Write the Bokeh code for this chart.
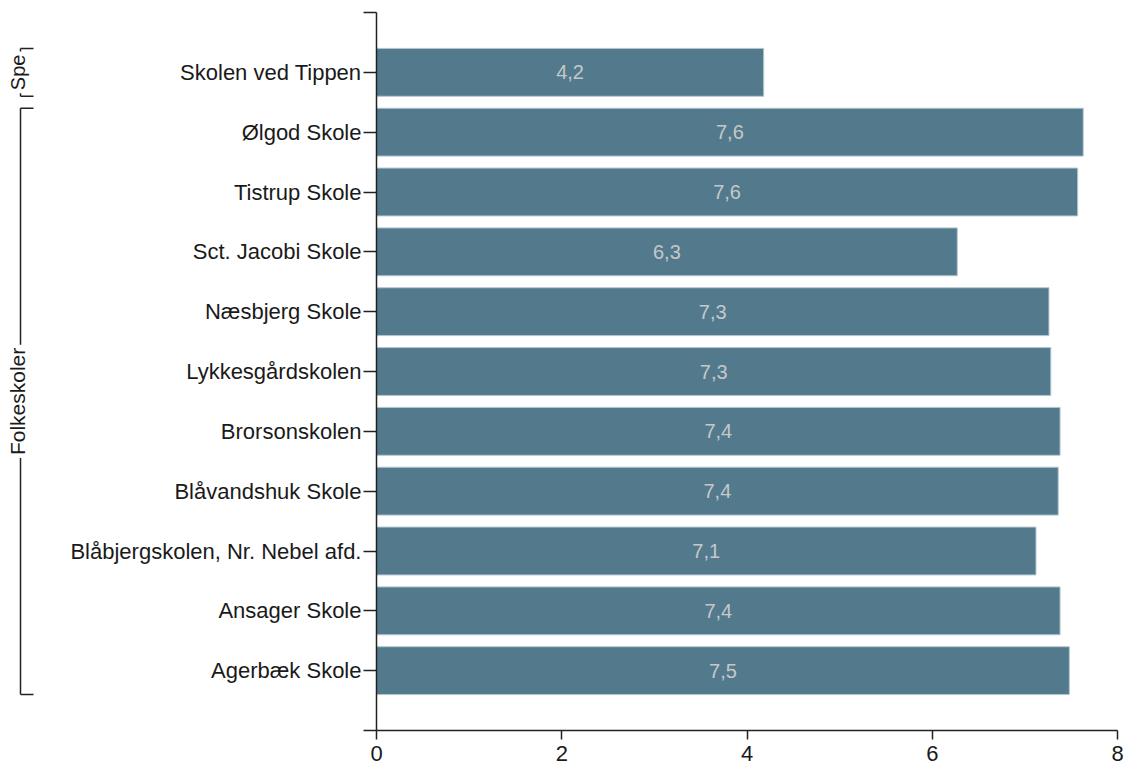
import math
from bokeh.plotting import figure
from bokeh.layouts import row
from bokeh.models import Range1d, FixedTicker, ColumnDataSource
from bokeh.core.properties import value
from bokeh.embed import file_html
from bokeh.resources import INLINE

# ---- data ----
schools = ["Skolen ved Tippen", "Ølgod Skole", "Tistrup Skole", "Sct. Jacobi Skole",
           "Næsbjerg Skole", "Lykkesgårdskolen", "Brorsonskolen", "Blåvandshuk Skole",
           "Blåbjergskolen, Nr. Nebel afd.", "Ansager Skole", "Agerbæk Skole"]
values = [4.18, 7.63, 7.57, 6.27, 7.26, 7.28, 7.38, 7.36, 7.12, 7.38, 7.48]
groups = ["Spe"] + ["Folkeskoler"] * 10
x_ticks = [0, 2, 4, 6, 8]

FONT = "Liberation Sans"
BAR_H = 0.8
n = len(schools)
ys = [n - i for i in range(n)]
labels = [f"{v:.1f}".replace(".", ",") for v in values]

H = 771
TOP = 12
BOTTOM = 41
BW = 48

yr = Range1d(0, n + 1)

# ---- main chart ----
p = figure(width=1125 - BW, height=H, x_range=Range1d(0, 8), y_range=yr,
           output_backend="svg", toolbar_location=None,
           min_border_left=376 - BW, min_border_right=8, min_border_top=TOP,
           min_border_bottom=BOTTOM)
p.outline_line_color = None
p.grid.visible = False
p.background_fill_color = "white"

src = ColumnDataSource(dict(y=ys, v=values, mid=[v / 2 for v in values], lab=labels))
p.hbar(y="y", left=0, right="v", height=BAR_H, source=src,
       fill_color="#537a8c", line_color="#b3c6ce", line_width=1)
p.text(x="mid", y="y", text="lab", source=src, text_align="center",
       text_baseline="middle", text_color="#c4c8ca",
       text_font=value(FONT), text_font_size="20px")

ax = p.xaxis[0]
ax.ticker = FixedTicker(ticks=x_ticks)
ax.minor_tick_line_color = None
ax.major_tick_in = 0
ax.major_tick_out = 9
ax.major_label_standoff = 6
ax.axis_line_width = 1.5
ax.major_tick_line_width = 1.5
ax.axis_line_color = "#222222"
ax.major_tick_line_color = "#222222"
ax.major_label_text_font = FONT
ax.major_label_text_font_size = "22px"
ax.major_label_text_color = "#1a1a1a"

ay = p.yaxis[0]
ay.ticker = FixedTicker(ticks=list(range(0, n + 2)))
overrides = {i: "" for i in range(0, n + 2)}
for s, y in zip(schools, ys):
    overrides[y] = s
ay.major_label_overrides = overrides
ay.minor_tick_line_color = None
ay.major_tick_in = 0
ay.major_tick_out = 13
ay.major_label_standoff = 2
ay.axis_line_width = 1.5
ay.major_tick_line_width = 1.5
ay.axis_line_color = "#222222"
ay.major_tick_line_color = "#222222"
ay.major_label_text_font = FONT
ay.major_label_text_font_size = "22px"
ay.major_label_text_color = "#1a1a1a"

# ---- group brackets ----
b = figure(width=BW, height=H, x_range=Range1d(0, BW), y_range=yr,
           output_backend="svg", toolbar_location=None,
           x_axis_location=None, y_axis_location=None,
           min_border_left=0, min_border_right=0, min_border_top=TOP,
           min_border_bottom=BOTTOM)
b.outline_line_color = None
b.grid.visible = False

gnames, gtop, gbot, gmid = [], [], [], []
for g in dict.fromkeys(groups):
    gy = [y for y, gg in zip(ys, groups) if gg == g]
    t = max(gy) + BAR_H / 2
    bt = min(gy) - BAR_H / 2
    gnames.append(g)
    gtop.append(t)
    gbot.append(bt)
    gmid.append((t + bt) / 2)

LX, TX = 20, 33
b.segment(x0=[LX] * len(gnames), x1=[LX] * len(gnames), y0=gbot, y1=gtop,
          line_color="#222222", line_width=1.5)
b.segment(x0=[LX] * len(gnames) * 2, x1=[TX] * len(gnames) * 2, y0=gtop + gbot,
          y1=gtop + gbot, line_color="#222222", line_width=1.5)
sizes = ["20px" if g == "Spe" else "21px" for g in gnames]
gsrc = ColumnDataSource(dict(x=[17] * len(gnames), y=gmid, t=gnames, fs=sizes))
b.text(x="x", y="y", text="t", source=gsrc, angle=math.pi / 2,
       text_align="center", text_baseline="middle", text_color="#1a1a1a",
       text_font=value(FONT), text_font_size="fs",
       background_fill_color="white", padding=3)

layout = row(b, p)
open("out.html", "w").write(file_html(layout, INLINE))
